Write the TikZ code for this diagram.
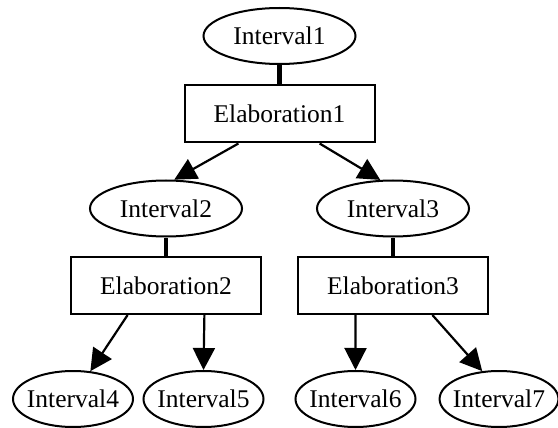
\documentclass[tikz,border=0pt]{standalone}
\usepackage{fontspec}
\setmainfont{Liberation Serif}
\usetikzlibrary{shapes.geometric,arrows.meta,calc}
\begin{document}
\begin{tikzpicture}[x=1pt,y=-1pt,
  ival/.style={ellipse,draw,line width=2pt,inner sep=0pt,minimum height=56pt,font=\fontsize{25.5}{30}\selectfont},
  bigival/.style={ival,minimum width=152pt},
  smallival/.style={ival,inner xsep=-4pt,minimum width=120pt},
  elab/.style={rectangle,draw,line width=2pt,inner sep=0pt,minimum width=190pt,minimum height=57pt,font=\fontsize{25.5}{30}\selectfont},
  link/.style={line width=4.5pt},
  arr/.style={line width=2.2pt,-{Triangle[length=22pt,width=22pt]}}]
\useasboundingbox (0,0) rectangle (558,428);
\node[bigival] (i1) at (279.5,36) {Interval1};
\node[elab] (e1) at (279.5,114) {Elaboration1};
\node[bigival] (i2) at (166,208.5) {Interval2};
\node[bigival] (i3) at (393,208.5) {Interval3};
\node[elab] (e2) at (166,285.5) {Elaboration2};
\node[elab] (e3) at (393,285.5) {Elaboration3};
\node[smallival] (i4) at (73,399) {Interval4};
\node[smallival] (i5) at (203.5,399) {Interval5};
\node[smallival] (i6) at (355.5,399) {Interval6};
\node[smallival,minimum width=116pt] (i7) at (499,399) {Interval7};
\draw[link] (i1.south) -- (e1.north);
\draw[link] (i2.south) -- (e2.north);
\draw[link] (i3.south) -- (e3.north);
\draw[arr] ($(e1.south west)!0.286!(e1.south east)$) -- (i2.74);
\draw[arr] ($(e1.south west)!0.709!(e1.south east)$) -- (i3.114);
\draw[arr] ($(e2.south west)!0.3!(e2.south east)$) -- (i4.58);
\draw[arr] ($(e2.south west)!0.7!(e2.south east)$) -- (i5.north);
\draw[arr] ($(e3.south west)!0.305!(e3.south east)$) -- (i6.north);
\draw[arr] ($(e3.south west)!0.705!(e3.south east)$) -- (i7.121);
\end{tikzpicture}
\end{document}
